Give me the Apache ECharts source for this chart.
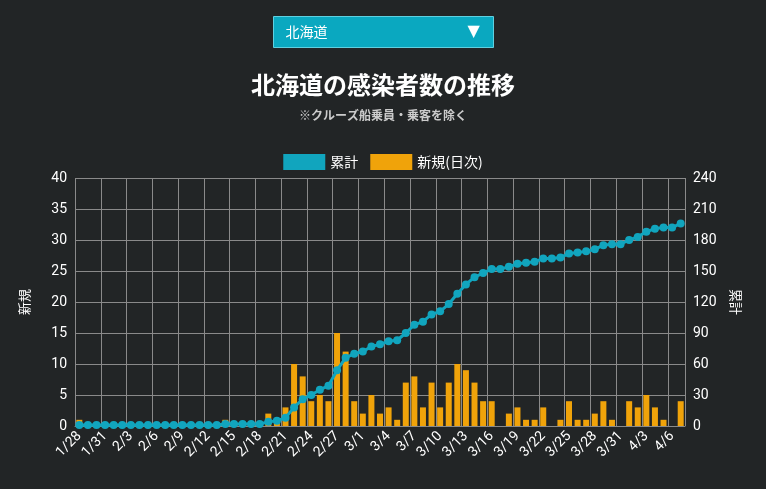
<!DOCTYPE html>
<html>
<head>
<meta charset="utf-8">
<script src="https://cdn.jsdelivr.net/npm/echarts@6/dist/echarts.min.js"></script>
<style>
  html, body { margin: 0; padding: 0; background: #222526; }
  #main { width: 766px; height: 489px; }
</style>
</head>
<body>
<div id="main"></div>
<script>
// 日付
const dates = ['1/28', '1/29', '1/30', '1/31', '2/1', '2/2', '2/3', '2/4', '2/5', '2/6', '2/7', '2/8', '2/9', '2/10',
  '2/11', '2/12', '2/13', '2/14', '2/15', '2/16', '2/17', '2/18', '2/19', '2/20', '2/21', '2/22', '2/23', '2/24',
  '2/25', '2/26', '2/27', '2/28', '2/29', '3/1', '3/2', '3/3', '3/4', '3/5', '3/6', '3/7', '3/8', '3/9', '3/10',
  '3/11', '3/12', '3/13', '3/14', '3/15', '3/16', '3/17', '3/18', '3/19', '3/20', '3/21', '3/22', '3/23', '3/24',
  '3/25', '3/26', '3/27', '3/28', '3/29', '3/30', '3/31', '4/1', '4/2', '4/3', '4/4', '4/5', '4/6', '4/7'];
// 新規(日次)
const daily = [1, 0, 0, 0, 0, 0, 0, 0, 0, 0, 0, 0, 0, 0, 0, 0, 0, 1, 0, 0, 0, 0, 2, 1, 3, 10, 8, 4,
  5, 4, 15, 12, 4, 2, 5, 2, 3, 1, 7, 8, 3, 7, 3, 7, 10, 9, 7, 4, 4, 0, 2, 3, 1, 1, 3, 0, 1,
  4, 1, 1, 2, 4, 1, 0, 4, 3, 5, 3, 1, 0, 4];
// 累計
const total = [1, 1, 1, 1, 1, 1, 1, 1, 1, 1, 1, 1, 1, 1, 1, 1, 1, 2, 2, 2, 2, 2, 4, 5, 8, 18, 26, 30,
  35, 39, 54, 66, 70, 72, 77, 79, 82, 83, 90, 98, 101, 108, 111, 118, 128, 137, 144, 148, 152, 152, 154, 157, 158, 159, 162, 162, 163,
  167, 168, 169, 171, 175, 176, 176, 180, 183, 188, 191, 192, 192, 196];

const myChart = echarts.init(document.getElementById('main'));
const axisText = { color: '#ffffff', fontSize: 14, fontFamily: 'Roboto, "Noto Sans CJK JP"' };
const gridLine = { show: true, lineStyle: { color: '#8a8a8a', width: 1 } };

const option = {
  backgroundColor: '#222526',
  animation: false,
  title: {
    text: '北海道の感染者数の推移',
    subtext: '※クルーズ船乗員・乗客を除く',
    left: 'center',
    top: 68,
    itemGap: 12,
    textStyle: { color: '#ffffff', fontSize: 24, fontWeight: 'bold', fontFamily: '"Noto Sans CJK JP"' },
    subtextStyle: { color: '#cccccc', fontSize: 12, fontWeight: 'bold', fontFamily: '"Noto Sans CJK JP"' }
  },
  graphic: [{
    type: 'group',
    left: 273,
    top: 16,
    children: [
      { type: 'rect', shape: { x: 0, y: 0, width: 220, height: 31 }, style: { fill: '#0aa8c0', stroke: '#5fd0e0', lineWidth: 1 } },
      { type: 'text', x: 12, y: 8, style: { text: '北海道', fill: '#ffffff', font: '14px "Noto Sans CJK JP"' } },
      { type: 'text', x: 194, y: 7, style: { text: '▼', fill: '#ffffff', font: '16px "DejaVu Sans"' } }
    ]
  }],
  legend: {
    top: 149,
    left: 'center',
    itemWidth: 42,
    itemHeight: 16,
    itemGap: 12,
    textStyle: { color: '#ffffff', fontSize: 14, fontFamily: '"Noto Sans CJK JP"' },
    data: [
      { name: '累計', icon: 'rect' },
      { name: '新規(日次)', icon: 'rect' }
    ]
  },
  grid: { left: 75, right: 81, top: 178, bottom: 63 },
  xAxis: {
    type: 'category',
    data: dates,
    boundaryGap: true,
    axisLine: { lineStyle: { color: '#8a8a8a' } },
    axisTick: { show: false },
    axisLabel: Object.assign({ interval: 2, rotate: 45, margin: 8 }, axisText),
    splitLine: Object.assign({ interval: 2 }, gridLine)
  },
  yAxis: [{
    type: 'value',
    name: '新規',
    nameLocation: 'middle',
    nameGap: 44,
    nameRotate: 90,
    nameTextStyle: { color: '#ffffff', fontSize: 13, fontFamily: '"Noto Sans CJK JP"' },
    min: 0, max: 40, interval: 5,
    axisLine: { show: false },
    axisLabel: axisText,
    splitLine: gridLine
  }, {
    type: 'value',
    name: '累計',
    nameLocation: 'middle',
    nameGap: 44,
    nameRotate: -90,
    nameTextStyle: { color: '#ffffff', fontSize: 13, fontFamily: '"Noto Sans CJK JP"' },
    min: 0, max: 240, interval: 30,
    axisLine: { show: false },
    axisLabel: axisText,
    splitLine: { show: false }
  }],
  series: [{
    name: '累計',
    type: 'line',
    yAxisIndex: 1,
    data: total,
    symbol: 'circle',
    symbolSize: 8,
    showAllSymbol: true,
    z: 3,
    itemStyle: { color: '#11a5be' },
    lineStyle: { color: '#11a5be', width: 3 }
  }, {
    name: '新規(日次)',
    type: 'bar',
    yAxisIndex: 0,
    data: daily,
    barWidth: 6,
    z: 2,
    itemStyle: { color: '#f0a30a' }
  }]
};
myChart.setOption(option);
</script>
</body>
</html>
